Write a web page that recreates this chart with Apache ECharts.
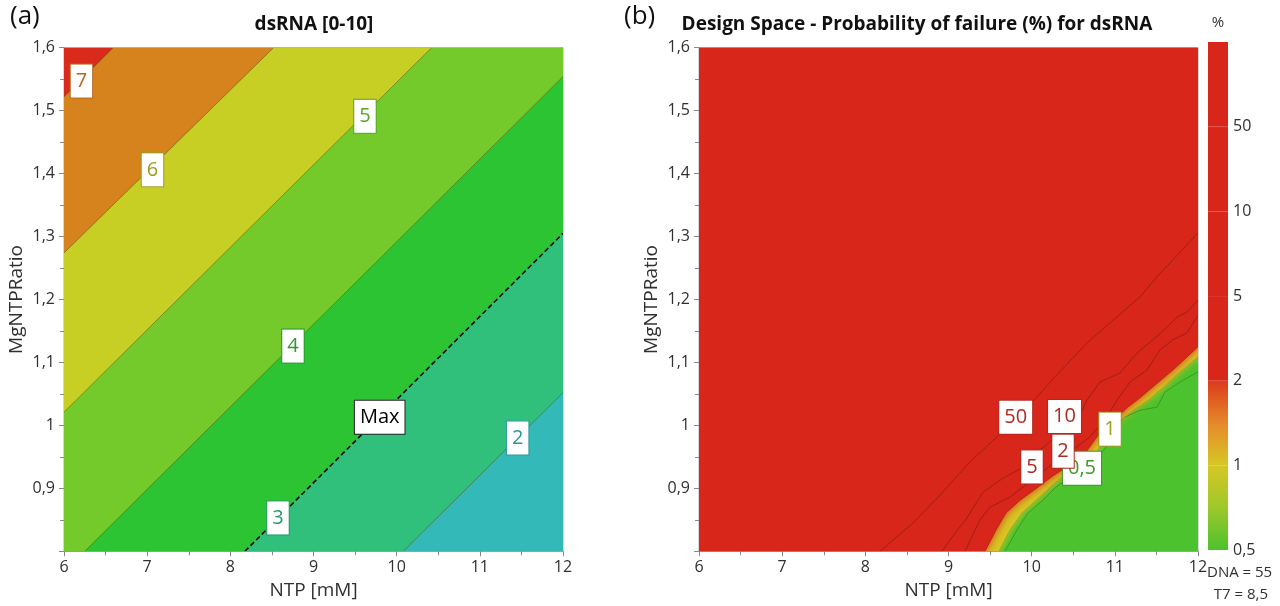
<!DOCTYPE html>
<html>
<head>
<meta charset="utf-8">
<script src="https://cdn.jsdelivr.net/npm/echarts@6/dist/echarts.min.js"></script>
<style>
  html, body { margin: 0; padding: 0; background: #ffffff; }
  #chart { width: 1280px; height: 606px; }
</style>
</head>
<body>
<div id="chart"></div>
<script>
// ---- shared axis ranges ----
const ntpRange = [6, 12];
const ratioRange = [0.8, 1.6];
const ntpTicks = [6, 7, 8, 9, 10, 11, 12];

// ---- panel (a): dsRNA contour levels, straight boundaries as [NTP, MgNTPRatio] end points ----
const levelsA = [2, 3, 4, 5, 6, 7];
const contoursA = [
  [[10.08, 0.8], [12, 1.052]],
  [[8.175, 0.8], [12, 1.305]],
  [[6.25, 0.8], [12, 1.554]],
  [[6, 1.021], [10.42, 1.6]],
  [[6, 1.274], [8.52, 1.6]],
  [[6, 1.522], [6.59, 1.6]]
];
const maxLevelA = 3;
// contour label anchors: [text, NTP, MgNTPRatio]
const labelsA = [
  ['7', 6.21, 1.547],
  ['6', 7.064, 1.406],
  ['5', 9.619, 1.491],
  ['4', 8.753, 1.126],
  ['3', 8.573, 0.853],
  ['Max', 9.796, 1.013],
  ['2', 11.455, 0.980]
];

// ---- panel (b): probability of failure (%) contours, polylines from bottom edge to right edge ----
const levelsB = [0.5, 1, 2, 5, 10, 50];
const contour05 = [[9.679,0.800],[9.823,0.834],[9.956,0.861],[10.136,0.881],[10.292,0.902],[10.437,0.916],[10.641,0.929],[10.821,0.953],[10.966,0.977],[11.098,1.012],[11.302,1.024],[11.507,1.029],[11.603,1.053],[11.783,1.069],[12,1.085]];
const contour1 = [[9.607,0.800],[9.739,0.834],[9.884,0.861],[10.052,0.881],[10.220,0.902],[10.377,0.920],[10.557,0.937],[10.761,0.953],[10.882,0.982],[11.038,1.005],[11.218,1.024],[11.398,1.040],[11.567,1.059],[11.783,1.085],[12,1.109]];
const contour2 = [[9.439,0.800],[9.571,0.834],[9.691,0.861],[9.859,0.881],[10.076,0.902],[10.256,0.920],[10.460,0.937],[10.653,0.958],[10.785,0.982],[10.966,1.005],[11.146,1.028],[11.302,1.044],[11.482,1.064],[11.723,1.091],[12,1.125]];
const contour5 = [[9.198,0.800],[9.379,0.850],[9.499,0.870],[9.739,0.886],[9.896,0.902],[10.100,0.923],[10.304,0.945],[10.545,0.966],[10.701,0.982],[10.882,1.009],[11.026,1.040],[11.182,1.069],[11.387,1.088],[11.543,1.120],[11.699,1.136],[11.867,1.147],[12,1.175]];
const contour10 = [[8.922,0.800],[9.018,0.818],[9.222,0.853],[9.415,0.894],[9.655,0.916],[9.836,0.929],[10.040,0.953],[10.244,0.977],[10.437,0.996],[10.581,1.017],[10.665,1.040],[10.821,1.069],[11.061,1.083],[11.266,1.115],[11.458,1.136],[11.627,1.156],[11.747,1.172],[11.868,1.180],[12,1.199]];
const contour50 = [[8.176,0.800],[8.573,0.845],[8.874,0.886],[9.258,0.942],[9.583,0.982],[9.823,1.012],[10.064,1.045],[10.244,1.072],[10.665,1.131],[10.977,1.167],[11.302,1.204],[11.507,1.236],[11.699,1.263],[12,1.306]];
const contoursB = [contour05, contour1, contour2, contour5, contour10, contour50];
const labelsB = [
  ['50', 9.808, 1.013],
  ['10', 10.395, 1.014],
  ['5', 10.004, 0.934],
  ['0,5', 10.605, 0.932],
  ['2', 10.377, 0.959],
  ['1', 10.942, 0.994]
];
const factorNotes = ['DNA = 55', 'T7 = 8,5'];

// ---- styling ----
const FONT = "'Open Sans', 'Noto Sans', sans-serif";
const bandColorsA = ['#34b9b9', '#30c07c', '#2cc433', '#74c92b', '#c8cf24', '#d6821d', '#da2a1c'];
const labelColorsA = { '7': '#b8651c', '6': '#9c9c1e', '5': '#58a628', '4': '#2a9a30', '3': '#2a9a6c', '2': '#2a9a9c', 'Max': '#000000' };
const RED = '#d9261b';
const GREEN = '#4cc22e';
const YELLOW = '#d6c724';
const ORANGE = '#e5902a';
// fills above each level of panel (b); the soft edge blends each band into the one below
const bandColorsB = [GREEN, GREEN, YELLOW, RED, RED, RED, RED];
const bandBlurB = [0, 0, 7, 10, 0, 0, 0];
const lineColorsB = ['#3b9a28', '#b0a426', '#b42a1c', '#9c2117', '#9c2117', '#9c2117'];
const labelColorsB = { '50': '#b02a22', '10': '#b02a22', '5': '#b02a22', '2': '#b02a22', '1': '#a39b22', '0,5': '#3b9a28' };

const fmtNum = v => String(Math.round(v * 100) / 100).replace('.', ',');

// position of a boundary point along the plot rectangle, counter-clockwise from bottom-left
function perimeterPos(p) {
  const [x0, x1] = ntpRange, [y0, y1] = ratioRange;
  const W = x1 - x0, H = y1 - y0, eps = 1e-6;
  if (Math.abs(p[1] - y0) < eps) return (p[0] - x0) / W;
  if (Math.abs(p[0] - x1) < eps) return 1 + (p[1] - y0) / H;
  if (Math.abs(p[1] - y1) < eps) return 2 + (x1 - p[0]) / W;
  return 3 + (y1 - p[1]) / H;
}
// region on the high side (upper-left) of a contour path, closed along the plot border
function regionAbove(path) {
  const [x0, x1] = ntpRange, [y0, y1] = ratioRange;
  const corners = [[1, [x1, y0]], [2, [x1, y1]], [3, [x0, y1]], [4, [x0, y0]]];
  const sEnd = perimeterPos(path[path.length - 1]);
  let sStart = perimeterPos(path[0]);
  if (sStart <= sEnd) sStart += 4;
  const pts = path.slice();
  [...corners, ...corners.map(c => [c[0] + 4, c[1]])].forEach(([s, c]) => {
    if (s > sEnd && s < sStart) pts.push(c);
  });
  return pts;
}
const fullRect = [[ntpRange[0], ratioRange[0]], [ntpRange[1], ratioRange[0]], [ntpRange[1], ratioRange[1]], [ntpRange[0], ratioRange[1]]];

function fillSeries(gridIdx, contours, colors, blur) {
  return {
    type: 'custom', xAxisIndex: gridIdx, yAxisIndex: gridIdx, clip: true, silent: true, z: 2,
    data: [null].concat(contours).map((c, i) => [i]),
    renderItem: (params, api) => {
      const i = params.dataIndex;
      const poly = i === 0 ? fullRect : regionAbove(contours[i - 1]);
      const b = blur ? blur[i] : 0;
      return {
        type: 'polygon', shape: { points: poly.map(p => api.coord(p)) },
        style: b ? { fill: colors[i], shadowBlur: b, shadowColor: colors[i] } : { fill: colors[i] }
      };
    }
  };
}
function lineSeries(gridIdx, contours, colorOf, dashedIdx) {
  return {
    type: 'custom', xAxisIndex: gridIdx, yAxisIndex: gridIdx, clip: true, silent: true, z: 3,
    data: contours.map((c, i) => [i]),
    renderItem: (params, api) => {
      const i = params.dataIndex;
      const dashed = i === dashedIdx;
      return {
        type: 'polyline',
        shape: { points: contours[i].map(p => api.coord(p)) },
        style: dashed
          ? { stroke: '#000', lineWidth: 1.6, lineDash: [5, 3], fill: null }
          : { stroke: colorOf(i), lineWidth: 1, fill: null }
      };
    }
  };
}
function labelSeries(gridIdx, labels, colors) {
  return {
    type: 'custom', xAxisIndex: gridIdx, yAxisIndex: gridIdx, clip: false, silent: true, z: 5,
    data: labels.map(l => [l[1], l[2]]),
    renderItem: (params, api) => {
      const l = labels[params.dataIndex];
      const pt = api.coord([l[1], l[2]]);
      const col = colors[l[0]];
      return {
        type: 'text', x: pt[0], y: pt[1],
        style: {
          text: l[0], fill: col, fontFamily: FONT, fontSize: 20, lineHeight: 22,
          align: 'center', verticalAlign: 'middle',
          backgroundColor: '#ffffff', borderColor: l[0] === 'Max' ? '#222' : col, borderWidth: 1,
          padding: [6, 5, 5, 5]
        }
      };
    }
  };
}

const axisCommon = {
  axisLine: { show: true, lineStyle: { color: '#a0a0a0', width: 1 } },
  axisTick: { show: true, length: 5, lineStyle: { color: '#8a8a8a' } },
  minorTick: { show: true, splitNumber: 2, length: 4, lineStyle: { color: '#8a8a8a' } },
  splitLine: { show: false },
  minorSplitLine: { show: false }
};
function xAxisFor(gridIdx) {
  return Object.assign({}, axisCommon, {
    gridIndex: gridIdx, type: 'value', min: ntpRange[0], max: ntpRange[1], interval: 1,
    name: 'NTP [mM]', nameLocation: 'middle', nameGap: 30,
    nameTextStyle: { fontFamily: FONT, fontSize: 19, color: '#303030' },
    axisLabel: { fontFamily: FONT, fontSize: 16, color: '#303030', margin: 8,
      formatter: v => (ntpTicks.indexOf(Math.round(v)) >= 0 ? String(Math.round(v)) : '') }
  });
}
function yAxisFor(gridIdx) {
  return Object.assign({}, axisCommon, {
    gridIndex: gridIdx, type: 'value', min: ratioRange[0], max: ratioRange[1], interval: 0.1,
    name: 'MgNTPRatio', nameLocation: 'middle', nameGap: 38, nameRotate: 90,
    nameTextStyle: { fontFamily: FONT, fontSize: 19, color: '#303030' },
    axisLabel: { fontFamily: FONT, fontSize: 16, color: '#303030', margin: 9,
      formatter: v => (Math.abs(v - ratioRange[0]) < 1e-6 ? '' : fmtNum(v)) }
  });
}

const chart = echarts.init(document.getElementById('chart'), null, { renderer: 'canvas' });

chart.setOption({
  animation: false,
  backgroundColor: '#ffffff',
  grid: [
    { left: 64, top: 47.7, width: 499, height: 503.6, show: true, borderColor: '#b0b0b0', borderWidth: 1, backgroundColor: 'transparent' },
    { left: 699, top: 47.7, width: 499, height: 503.6, show: true, borderColor: '#b0b0b0', borderWidth: 1, backgroundColor: 'transparent' },
    { left: 1208, top: 42, width: 20, height: 508 }
  ],
  xAxis: [
    xAxisFor(0),
    xAxisFor(1),
    { gridIndex: 2, type: 'value', min: 0, max: 1, show: false }
  ],
  yAxis: [
    yAxisFor(0),
    yAxisFor(1),
    {
      gridIndex: 2, type: 'value', min: 0, max: levelsB.length, interval: 1, position: 'right',
      axisLine: { show: false }, axisTick: { show: false }, splitLine: { show: false },
      axisLabel: { fontFamily: FONT, fontSize: 16, color: '#303030', margin: 5,
        formatter: v => (v < levelsB.length ? fmtNum(levelsB[v]) : '') }
    }
  ],
  graphic: [
    { type: 'text', left: 10, top: 4, style: { text: '(a)', fontFamily: FONT, fontSize: 26, fill: '#111' } },
    { type: 'text', x: 314, y: 25, style: { text: 'dsRNA [0-10]', fontFamily: FONT, fontSize: 19, fontWeight: 'bold', fill: '#111', align: 'center', verticalAlign: 'middle' } },
    { type: 'text', left: 624, top: 4, style: { text: '(b)', fontFamily: FONT, fontSize: 26, fill: '#111' } },
    { type: 'text', x: 917, y: 25, style: { text: 'Design Space - Probability of failure (%) for dsRNA', fontFamily: FONT, fontSize: 19, fontWeight: 'bold', fill: '#111', align: 'center', verticalAlign: 'middle' } },
    { type: 'text', x: 1218, y: 23, style: { text: '%', fontFamily: FONT, fontSize: 15, fill: '#303030', align: 'center', verticalAlign: 'middle' } },
    { type: 'text', x: 1207, y: 573, style: { text: factorNotes[0], fontFamily: FONT, fontSize: 15, fill: '#303030', align: 'left', verticalAlign: 'middle' } },
    { type: 'text', x: 1268, y: 595, style: { text: factorNotes[1], fontFamily: FONT, fontSize: 15, fill: '#303030', align: 'right', verticalAlign: 'middle' } }
  ],
  series: [
    fillSeries(0, contoursA, bandColorsA),
    lineSeries(0, contoursA, () => 'rgba(70,70,20,0.45)', levelsA.indexOf(maxLevelA)),
    labelSeries(0, labelsA, labelColorsA),
    fillSeries(1, contoursB, bandColorsB, bandBlurB),
    lineSeries(1, contoursB, i => lineColorsB[i], -1),
    labelSeries(1, labelsB, labelColorsB),
    // colour scale: one segment per level band
    {
      type: 'custom', xAxisIndex: 2, yAxisIndex: 2, silent: true, clip: false,
      data: levelsB.map((l, i) => [i]),
      renderItem: (params, api) => {
        const i = params.dataIndex;
        const p0 = api.coord([0, i]);
        const p1 = api.coord([1, i + 1]);
        let fill = RED;
        if (i === 0) fill = new echarts.graphic.LinearGradient(0, 1, 0, 0, [
          { offset: 0, color: GREEN }, { offset: 0.5, color: '#9ec82a' }, { offset: 1, color: YELLOW }]);
        if (i === 1) fill = new echarts.graphic.LinearGradient(0, 1, 0, 0, [
          { offset: 0, color: YELLOW }, { offset: 0.45, color: ORANGE }, { offset: 1, color: '#dc3a1d' }]);
        return {
          type: 'group',
          children: [
            { type: 'rect', shape: { x: p0[0], y: p1[1], width: p1[0] - p0[0], height: p0[1] - p1[1] }, style: { fill: fill } },
            { type: 'line', shape: { x1: p0[0], y1: p1[1], x2: p1[0], y2: p1[1] }, style: { stroke: i >= 1 && i < levelsB.length - 1 ? 'rgba(255,255,255,0.15)' : 'rgba(0,0,0,0)', lineWidth: 1 } }
          ]
        };
      }
    }
  ]
});
</script>
</body>
</html>
